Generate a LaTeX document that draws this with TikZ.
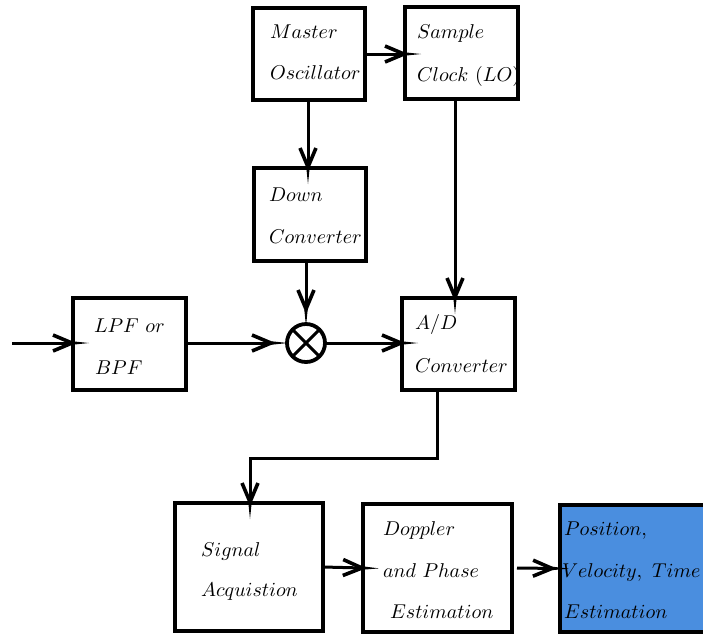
\documentclass[tikz,border=0pt]{standalone}
\usetikzlibrary{arrows.meta}
\definecolor{posblue}{HTML}{4A8EDF}
\pgfdeclarearrow{
  name = Spiked,
  parameters = {\the\pgflinewidth},
  setup code = {
    \pgfarrowssettipend{0pt}
    \pgfarrowssetlineend{-8pt}
    \pgfarrowssetbackend{-18.5pt}
    \pgfarrowshullpoint{0pt}{0pt}
    \pgfarrowshullpoint{-18.5pt}{4.5pt}
    \pgfarrowshullpoint{-18.5pt}{-4.5pt}
  },
  drawing code = {
    \pgfpathmoveto{\pgfqpoint{0pt}{0pt}}
    \pgfpathlineto{\pgfqpoint{-8.2pt}{0.85pt}}
    \pgfpathlineto{\pgfqpoint{-8.2pt}{-0.85pt}}
    \pgfpathclose
    \pgfusepathqfill
    \pgfsetmiterjoin
    \pgfsetbuttcap
    \pgfsetlinewidth{1.8pt}
    \pgfpathmoveto{\pgfqpoint{-18pt}{4pt}}
    \pgfpathlineto{\pgfqpoint{-8.5pt}{0pt}}
    \pgfpathlineto{\pgfqpoint{-18pt}{-4pt}}
    \pgfusepathqstroke
  }
}
\begin{document}
\begin{tikzpicture}[x=0.5pt,y=-0.5pt,
  box/.style={draw, line width=2pt, rectangle, inner sep=0pt, outer sep=0pt},
  lbl/.style={anchor=base west, inner sep=0pt, outer sep=0pt},
  arr/.style={line width=1.5pt, -Spiked},
  mixer/.style={circle, draw, line width=1.9pt, minimum size=19pt, inner sep=0pt, outer sep=0pt,
    path picture={\draw[line width=1.5pt] (path picture bounding box.north west) -- (path picture bounding box.south east)
      (path picture bounding box.north east) -- (path picture bounding box.south west);}}]
\useasboundingbox (0,0) rectangle (703,634);
% boxes
\node[box, minimum width=56pt, minimum height=46pt] (mo) at (309,54) {};
\node[box, minimum width=56.5pt, minimum height=46pt] (sc) at (461.5,53) {};
\node[box, minimum width=56pt, minimum height=46.5pt] (dc) at (310,214.5) {};
\node[box, minimum width=56.5pt, minimum height=46pt] (lpf) at (129.5,344) {};
\node[box, minimum width=56.5pt, minimum height=46pt] (ad) at (458.5,344) {};
\node[mixer] (mx) at (306,343) {};
\node[box, minimum width=74pt, minimum height=64pt] (sa) at (249,567) {};
\node[box, minimum width=74.5pt, minimum height=64pt] (dp) at (437.5,568) {};
\node[box, fill=posblue, minimum width=76pt, minimum height=63.5pt] (pos) at (636,568.5) {};
% labels
\node[lbl] (t1) at (270,38) {$Master$};
\node[lbl] (t2) at (270,79) {$Oscillator$};
\node[lbl] (t3) at (417,38) {$Sample$};
\node[lbl] (t4) at (417,81) {$Clock\ (LO)$};
\node[lbl] (t5) at (269,201) {$Down$};
\node[lbl] (t6) at (269,243) {$Converter$};
\node[lbl] (t7) at (94,332) {$LPF\ or$};
\node[lbl] (t8) at (95,374) {$BPF$};
\node[lbl] (t9) at (415,329) {$A/D$};
\node[lbl] (t10) at (415,372) {$Converter$};
\node[lbl] (t11) at (201,556) {$Signal$};
\node[lbl] (t12) at (201,596) {$Acquistion$};
\node[lbl] (t13) at (383,535) {$Doppler$};
\node[lbl] (t14) at (383,577) {$and\ Phase$};
\node[lbl] (t15) at (390,618) {$Estimation$};
\node[lbl] (t16) at (564,535) {$Position,$};
\node[lbl] (t17) at (562,577) {$Velocity,\ Time$};
\node[lbl] (t18) at (564,618) {$Estimation$};
% connectors
\coordinate (in) at (12,343);
\draw[arr, shorten >=-8pt] (mo.east) -- (mo.east -| sc.west);
\draw[arr, shorten >=-8pt] ([xshift=-0.5pt]mo.south) -- ([xshift=-0.5pt]mo.south |- dc.north);
\draw[arr, shorten >=-8pt] ([xshift=-3.25pt]sc.south) -- ([xshift=-3.25pt]sc.south |- ad.north);
\draw[arr, shorten >=-1pt] (dc.south -| mx.north) -- (mx.north);
\draw[arr, shorten >=-8pt] (in) -- (in -| lpf.west);
\draw[arr, shorten >=-0.5pt] (lpf.east |- mx.west) -- (mx.west);
\draw[arr, shorten >=-8pt] (mx.east) -- (mx.east -| ad.west);
\draw[arr, shorten >=-8pt] ([xshift=-10.75pt]ad.south) -- ++(0,68) -| ([xshift=0.5pt]sa.north);
\draw[arr, shorten >=-8pt] (sa.east) -- (dp.west);
\draw[arr, shorten >=-4.5pt] ([xshift=2.5pt]dp.east) -- (pos.west);
\end{tikzpicture}
\end{document}
